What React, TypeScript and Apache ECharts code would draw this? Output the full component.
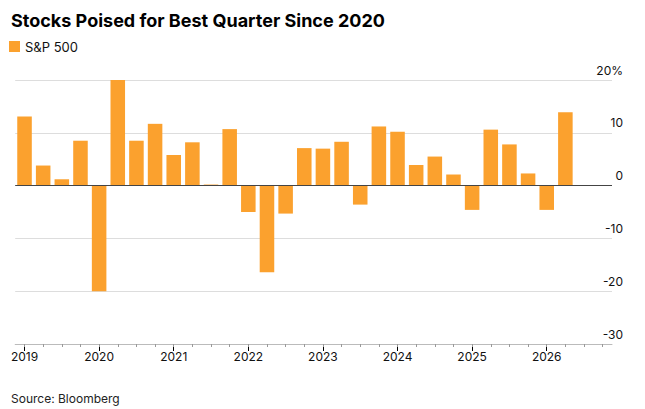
import React, { useEffect, useRef } from "react";
import * as echarts from "echarts";

const quarters = [
  "2019Q1", "2019Q2", "2019Q3", "2019Q4",
  "2020Q1", "2020Q2", "2020Q3", "2020Q4",
  "2021Q1", "2021Q2", "2021Q3", "2021Q4",
  "2022Q1", "2022Q2", "2022Q3", "2022Q4",
  "2023Q1", "2023Q2", "2023Q3", "2023Q4",
  "2024Q1", "2024Q2", "2024Q3", "2024Q4",
  "2025Q1", "2025Q2", "2025Q3", "2025Q4",
  "2026Q1", "2026Q2", "2026Q3", "2026Q4",
];
const spx = [
  13.1, 3.8, 1.2, 8.5,
  -20.0, 20.0, 8.5, 11.7,
  5.8, 8.2, 0.2, 10.7,
  -5.0, -16.4, -5.3, 7.1,
  7.0, 8.3, -3.6, 11.2,
  10.2, 3.9, 5.5, 2.1,
  -4.6, 10.6, 7.8, 2.3,
  -4.6, 13.9, null, null,
];

const App = () => {
  const chartRef = useRef<HTMLDivElement>(null);

  useEffect(() => {
    if (!chartRef.current) return;
    const chart = echarts.init(chartRef.current, undefined, { renderer: "svg" });
    const font = "Inter, 'Liberation Sans', sans-serif";
    const option: echarts.EChartsOption = {
      animation: false,
      textStyle: { fontFamily: font },
      title: [
        {
          text: "Stocks Poised for Best Quarter Since 2020",
          left: -2, top: -2,
          textStyle: { fontSize: 18, fontWeight: "bold", color: "#000", fontFamily: font },
        },
        {
          text: "Source: Bloomberg",
          left: -2, top: 379,
          textStyle: { fontSize: 12, fontWeight: "normal", color: "#222", fontFamily: font },
        },
      ],
      legend: {
        left: -4, top: 27,
        icon: "rect", itemWidth: 11, itemHeight: 11, itemGap: 6,
        textStyle: { fontSize: 13, color: "#111" },
        data: ["S&P 500"],
      },
      grid: { left: 2, right: 25, top: 72, bottom: 65 },
      xAxis: [
        {
          type: "category",
          data: quarters,
          axisLine: { onZero: false, lineStyle: { color: "#bbb" } },
          axisTick: { show: true, alignWithLabel: true, interval: (i: number) => i % 4 === 0, length: 7, lineStyle: { color: "#000" } },
          axisLabel: {
            interval: (i: number) => i % 4 === 0,
            formatter: (v: string) => v.slice(0, 4),
            fontSize: 12, color: "#111", margin: 6,
          },
        },
        {
          type: "category",
          data: quarters,
          position: "bottom",
          axisLine: { show: true, onZero: false, lineStyle: { color: "rgba(0,0,0,0)" } },
          axisTick: { show: true, alignWithLabel: true, interval: 0, length: 3, lineStyle: { color: "#999" } },
          axisLabel: { show: false },
        },
      ],
      yAxis: {
        type: "value",
        position: "right",
        min: -30, max: 20, interval: 10,
        axisLine: { show: false },
        axisTick: { show: false },
        splitLine: { lineStyle: { color: "#ddd" } },
        axisLabel: {
          align: "right", verticalAlign: "bottom", margin: 11,
          padding: [0, 0, 4, 0],
          fontSize: 12, color: "#111",
          formatter: (v: number) => (v === 20 ? "20%" : String(v)),
        },
      },
      series: [
        {
          name: "S&P 500",
          type: "bar",
          data: spx,
          barCategoryGap: "22%",
          itemStyle: { color: "#fba12e" },
          markLine: {
            silent: true, symbol: "none", label: { show: false },
            lineStyle: { color: "#444", width: 1, type: "solid" },
            data: [{ yAxis: 0 }],
          },
        },
      ],
    };
    chart.setOption(option);
    return () => chart.dispose();
  }, []);

  return <div ref={chartRef} style={{ width: "629px", height: "401px" }} />;
};

export default App;
